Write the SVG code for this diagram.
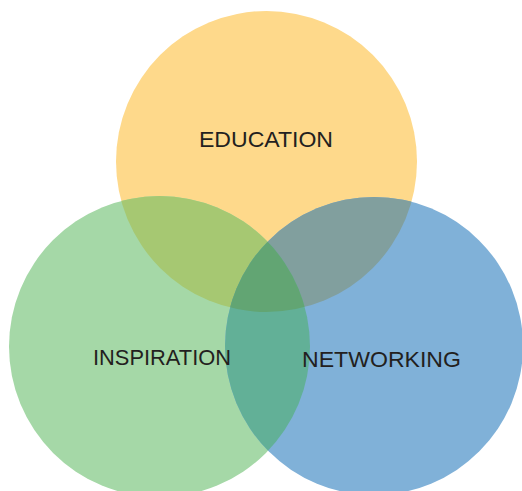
<svg xmlns="http://www.w3.org/2000/svg" width="522" height="491" viewBox="0 0 522 491">
  <style>
    .lbl { font-family: "Liberation Sans", Arial, sans-serif; font-size: 22px; fill: #231F20; }
  </style>
  <defs>
    <clipPath id="cE"><circle cx="266.5" cy="161.5" r="150.5"/></clipPath>
    <clipPath id="cI"><circle cx="159.5" cy="346.5" r="150.5"/></clipPath>
    <clipPath id="cN"><circle cx="374" cy="346" r="149"/></clipPath>
  </defs>
  <rect width="522" height="491" fill="#FFFFFF"/>
  <g id="education">
    <circle cx="266.5" cy="161.5" r="150.5" fill="#FED98B"/>
  </g>
  <g id="inspiration">
    <circle cx="159.5" cy="346.5" r="150.5" fill="#A5D8A7"/>
  </g>
  <g id="networking">
    <circle cx="374" cy="346" r="149" fill="#80B1D8"/>
  </g>
  <g id="overlaps">
    <g clip-path="url(#cE)">
      <circle cx="159.5" cy="346.5" r="150.5" fill="#A6C872"/>
      <circle cx="374" cy="346" r="149" fill="#819F9E"/>
    </g>
    <g clip-path="url(#cI)">
      <circle cx="374" cy="346" r="149" fill="#62B097"/>
    </g>
    <g clip-path="url(#cE)">
      <g clip-path="url(#cI)">
        <circle cx="374" cy="346" r="149" fill="#62A573"/>
      </g>
    </g>
  </g>
  <g id="connectors"/>
  <g id="labels">
    <text class="lbl" x="199" y="147" textLength="134" lengthAdjust="spacingAndGlyphs">EDUCATION</text>
    <text class="lbl" x="93" y="365" textLength="138" lengthAdjust="spacingAndGlyphs">INSPIRATION</text>
    <text class="lbl" x="302" y="367" textLength="159" lengthAdjust="spacingAndGlyphs">NETWORKING</text>
  </g>
</svg>
